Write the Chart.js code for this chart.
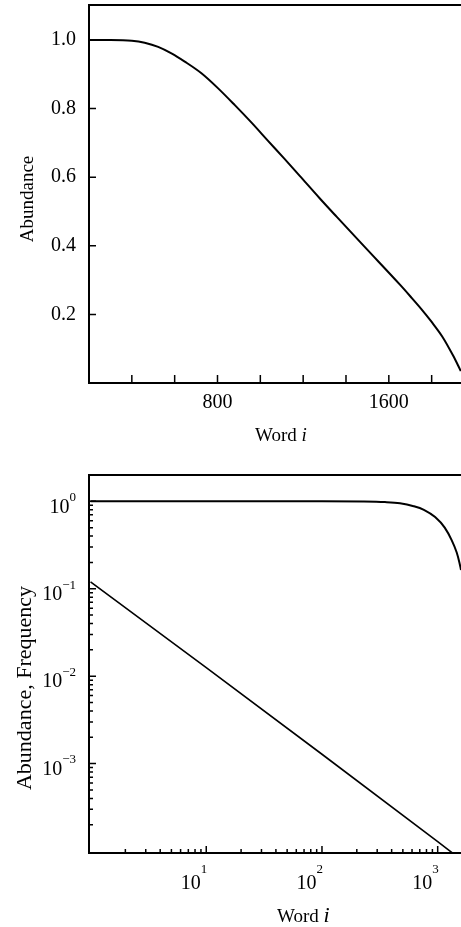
<!DOCTYPE html>
<html><head><meta charset="utf-8">
<script src="https://cdn.jsdelivr.net/npm/chart.js@4.4.1/dist/chart.umd.min.js"></script>
<style>
html,body{margin:0;padding:0;background:#fff;overflow:hidden;width:461px;height:927px}
#c1{position:absolute;left:0;top:0}
#c2{position:absolute;left:0;top:460px}
</style></head><body>
<canvas id="c1" width="461" height="460"></canvas>
<canvas id="c2" width="461" height="467"></canvas>
<script>
// ---------- top panel (linear) ----------
const wordTop      = [200, 300, 400, 460, 523, 585, 647, 725, 803, 881, 959, 1036, 1111, 1184, 1278, 1356, 1496, 1653, 1700, 1750, 1800, 1850, 1900, 1936];
const abundanceTop = [1.0, 1.0, 0.998, 0.992, 0.980, 0.961, 0.937, 0.903, 0.859, 0.810, 0.759, 0.706, 0.655, 0.604, 0.538, 0.485, 0.391, 0.286, 0.253, 0.217, 0.178, 0.135, 0.080, 0.035];
const xTickMarksTop  = [400, 600, 800, 1000, 1200, 1400, 1600, 1800];
const xTickLabelsTop = [800, 1600];
const yTickLabelsTop = [0.2, 0.4, 0.6, 0.8, 1.0];

// ---------- bottom panel (log-log) ----------
const wordBottom      = [1, 10, 100, 226, 350, 472, 620, 760, 950, 1150, 1320, 1460, 1540, 1590];
const abundanceBottom = [1, 1, 1, 0.995, 0.98, 0.95, 0.88, 0.80, 0.66, 0.50, 0.36, 0.26, 0.20, 0.164];
const wordFreq        = [1, 10, 100, 1000, 1590];
const frequencyBottom = [0.12, 0.0125, 0.00128, 0.000128, 0.00008];
const xDecadesBottom  = [10, 100, 1000];
const yDecadesBottom  = [1, 0.1, 0.01, 0.001];
const minorMultipliers = [2, 3, 4, 5, 6, 7, 8, 9];

const FONT = '"Liberation Serif", "Times New Roman", serif';

function minorLogTicks(decadeStarts) {
  const out = [];
  decadeStarts.forEach(d => minorMultipliers.forEach(m => out.push(d * m)));
  return out;
}
function noPad(s) { s.paddingTop = 0; s.paddingBottom = 0; s.paddingLeft = 0; s.paddingRight = 0; }

const frameAndTicks = {
  id: 'frameAndTicks',
  afterDatasetsDraw(chart) {
    const o = chart.options.plugins.frameAndTicks;
    if (!o || !o.x) return;
    const ctx = chart.ctx, a = chart.chartArea;
    const xs = chart.scales.x, ys = chart.scales.y;
    ctx.save();
    ctx.strokeStyle = '#000';
    ctx.lineWidth = 2;
    ctx.beginPath();
    ctx.moveTo(a.left, a.top); ctx.lineTo(a.right, a.top);
    ctx.stroke();
    ctx.lineWidth = 1.5;
    ctx.beginPath();
    o.x.forEach(g => g.values.forEach(v => {
      const p = xs.getPixelForValue(v);
      if (p < a.left + 2 || p > a.right - 1) return;
      ctx.moveTo(p, a.bottom); ctx.lineTo(p, a.bottom - g.len);
    }));
    o.y.forEach(g => g.values.forEach(v => {
      const p = ys.getPixelForValue(v);
      if (p < a.top + 2 || p > a.bottom - 2) return;
      ctx.moveTo(a.left, p); ctx.lineTo(a.left + g.len, p);
    }));
    ctx.stroke();
    ctx.restore();
  },
  afterDraw(chart) {
    const o = chart.options.plugins.frameAndTicks;
    if (!o || !o.xTitle) return;
    const ctx = chart.ctx;
    ctx.save();
    ctx.fillStyle = '#000';
    const t = o.xTitle;
    ctx.textBaseline = 'alphabetic';
    ctx.textAlign = 'left';
    ctx.font = t.size + 'px ' + FONT;
    ctx.fillText(t.text, t.x, t.y);
    const w = ctx.measureText(t.text + ' ').width;
    ctx.font = 'italic ' + t.iSize + 'px ' + FONT;
    ctx.fillText(t.italic, t.x + w, t.y);
    const yt = o.yTitle;
    ctx.translate(yt.x, yt.y);
    ctx.rotate(-Math.PI / 2);
    ctx.textAlign = 'center';
    ctx.font = yt.size + 'px ' + FONT;
    ctx.fillText(yt.text, 0, 0);
    ctx.restore();
  }
};

const logLabels = {
  id: 'logLabels',
  afterDraw(chart) {
    const o = chart.options.plugins.logLabels;
    if (!o || !o.xValues) return;
    const ctx = chart.ctx, a = chart.chartArea;
    const xs = chart.scales.x, ys = chart.scales.y;
    const expOf = v => String(Math.round(Math.log10(v))).replace('-', '\u2212');
    ctx.save();
    ctx.fillStyle = '#000';
    ctx.textBaseline = 'alphabetic';
    ctx.textAlign = 'right';
    const bigF = '20px ' + FONT, smallF = '13px ' + FONT;
    o.xValues.forEach(v => {
      const p = xs.getPixelForValue(v);
      const e = expOf(v);
      ctx.font = smallF;
      const ew = ctx.measureText(e).width;
      const right = p + 1;
      ctx.fillText(e, right, a.bottom + 20.3);
      ctx.font = bigF;
      ctx.fillText('10', right - ew, a.bottom + 36.3);
    });
    o.yValues.forEach(v => {
      const p = ys.getPixelForValue(v);
      const e = expOf(v);
      ctx.font = smallF;
      const ew = ctx.measureText(e).width;
      const right = 76;
      ctx.fillText(e, right, p - 0.2);
      ctx.font = bigF;
      ctx.fillText('10', right - ew, p + 11.3);
    });
    ctx.restore();
  }
};

const onTick = (list, v) => list.some(t => Math.abs(t - v) < 1e-6);

// ---- top chart ----
new Chart(document.getElementById('c1'), {
  type: 'line',
  data: {
    datasets: [{
      label: 'Abundance',
      data: wordTop.map((x, i) => ({x, y: abundanceTop[i]})),
      borderColor: '#000', borderWidth: 2, pointRadius: 0,
      cubicInterpolationMode: 'monotone', fill: false
    }]
  },
  plugins: [frameAndTicks],
  options: {
    responsive: false, animation: false, devicePixelRatio: 1,
    layout: {autoPadding: false, padding: {top: 5, right: 0, bottom: 0, left: 0}},
    plugins: {
      legend: {display: false}, tooltip: {enabled: false},
      frameAndTicks: {
        x: [{values: xTickMarksTop, len: 8}],
        y: [{values: yTickLabelsTop, len: 7}],
        xTitle: {text: 'Word', italic: 'i', x: 255, y: 441, size: 19, iSize: 19},
        yTitle: {text: 'Abundance', x: 33, y: 199, size: 19}
      }
    },
    scales: {
      x: {
        type: 'linear', min: 200, max: 1937,
        afterFit: s => { s.height = 77; noPad(s); },
        grid: {display: false, drawTicks: false},
        border: {display: true, color: '#000', width: 2},
        ticks: {
          stepSize: 200, autoSkip: false, maxRotation: 0, padding: 8,
          color: '#000', font: {family: FONT, size: 20},
          callback: v => onTick(xTickLabelsTop, v) ? String(v) : ''
        }
      },
      y: {
        type: 'linear', min: 0, max: 1.102,
        afterFit: s => { s.width = 89; noPad(s); },
        grid: {display: false, drawTicks: false},
        border: {display: true, color: '#000', width: 2},
        ticks: {
          stepSize: 0.2, autoSkip: false, padding: 13,
          color: '#000', font: {family: FONT, size: 20},
          callback: v => onTick(yTickLabelsTop, v) ? v.toFixed(1) : ''
        }
      }
    }
  }
});

// ---- bottom chart ----
new Chart(document.getElementById('c2'), {
  type: 'line',
  data: {
    datasets: [{
      label: 'Abundance',
      data: wordBottom.map((x, i) => ({x, y: abundanceBottom[i]})),
      borderColor: '#000', borderWidth: 2, pointRadius: 0,
      cubicInterpolationMode: 'monotone', fill: false
    }, {
      label: 'Frequency',
      data: wordFreq.map((x, i) => ({x, y: frequencyBottom[i]})),
      borderColor: '#000', borderWidth: 1.6, pointRadius: 0,
      tension: 0, fill: false
    }]
  },
  plugins: [frameAndTicks, logLabels],
  options: {
    responsive: false, animation: false, devicePixelRatio: 1,
    layout: {autoPadding: false, padding: {top: 15, right: 0, bottom: 0, left: 0}},
    plugins: {
      legend: {display: false}, tooltip: {enabled: false},
      frameAndTicks: {
        x: [{values: xDecadesBottom, len: 7}, {values: minorLogTicks([1, 10, 100, 1000]), len: 4}],
        y: [{values: yDecadesBottom, len: 7}, {values: minorLogTicks([0.0001, 0.001, 0.01, 0.1, 1]), len: 4}],
        xTitle: {text: 'Word', italic: 'i', x: 277, y: 462, size: 19, iSize: 22},
        yTitle: {text: 'Abundance, Frequency', x: 31, y: 228, size: 22}
      },
      logLabels: {xValues: xDecadesBottom, yValues: yDecadesBottom}
    },
    scales: {
      x: {
        type: 'logarithmic', min: 0.97, max: 1590,
        afterFit: s => { s.height = 74; noPad(s); },
        grid: {display: false, drawTicks: false},
        border: {display: true, color: '#000', width: 2},
        ticks: {display: false}
      },
      y: {
        type: 'logarithmic', min: 0.000095, max: 2.0,
        afterFit: s => { s.width = 89; noPad(s); },
        grid: {display: false, drawTicks: false},
        border: {display: true, color: '#000', width: 2},
        ticks: {display: false}
      }
    }
  }
});
</script>
</body></html>
